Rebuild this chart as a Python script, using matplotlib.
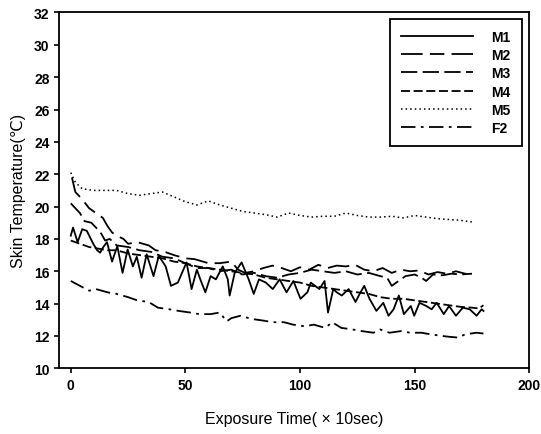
import matplotlib
matplotlib.use('Agg')
import matplotlib.pyplot as plt

plt.rcParams['font.family'] = ['Liberation Sans', 'DejaVu Sans']

# M1 (solid, strongly oscillating)
m1_x = [0, 1, 3, 5, 7, 9.8, 11.5, 12.8, 14.2, 15.8, 18, 20.3, 22.6, 24.8, 27.1, 28.8,
        30.9, 33.1, 36.1, 38.4, 41.4, 43.7, 46.7, 50.5, 52.7, 55, 56.5, 58.7, 61, 63.3,
        66.3, 68.5, 69.3, 71.5, 74.5, 77.6, 79.8, 82.1, 85.1, 88.1, 91.1, 94.1, 97.1, 100.2,
        103.2, 104.7, 108.4, 110.7, 112.2, 114.5, 116, 118.2, 121.2, 124.2, 126, 128, 130.3,
        133.3, 136.3, 138.6, 140.8, 143.1, 145.3, 148.3, 149.8, 152.1, 155.1, 157.4, 159.6,
        162.7, 165, 168, 171, 174, 177, 179.2, 180]
m1_y = [18.2, 18.7, 17.8, 18.6, 18.5, 17.7, 17.3, 17.15, 17.5, 17.8, 16.6, 17.55, 15.9,
        17.35, 16.3, 16.9, 15.6, 17.05, 15.7, 16.95, 16.3, 15.1, 15.3, 16.55, 14.9, 16.1,
        15.5, 14.7, 15.7, 15.5, 16.3, 15.5, 14.5, 15.9, 16.55, 15.5, 14.6, 15.5, 15.3,
        14.9, 15.5, 14.7, 15.4, 14.3, 14.7, 15.3, 14.9, 15.4, 13.45, 14.9, 14.7, 14.5,
        14.9, 14.1, 14.6, 15.1, 14.3, 13.55, 14.05, 13.25, 13.65, 14.5, 13.35, 13.85,
        13.25, 14.05, 13.85, 13.65, 14.05, 13.35, 13.85, 13.25, 13.75, 13.65, 13.25,
        13.65, 13.55]

# M2 (long dash)
m2_x = [0.5, 2, 5, 8, 11, 14, 16, 18, 20, 23, 25, 29, 34, 37, 41, 45, 50, 54, 60, 65, 70,
        73, 76, 80, 84, 88, 92, 96, 100, 104, 108, 112, 116, 120, 124, 128, 132, 136, 140,
        144, 148, 152, 156, 160, 164, 168, 172, 175]
m2_y = [21.8, 20.9, 20.45, 19.9, 19.6, 19.3, 18.8, 18.4, 18.2, 18.0, 17.7, 17.8, 17.6, 17.3,
        17.2, 17.0, 16.8, 16.75, 16.5, 16.5, 16.6, 16.1, 15.9, 16.0, 16.2, 16.35, 16.2,
        16.0, 16.25, 16.1, 16.4, 16.2, 16.35, 16.3, 16.4, 16.1, 16.0, 16.2, 15.9, 16.1,
        16.0, 16.05, 15.8, 15.95, 15.85, 16.0, 15.85, 15.9]

# M3 (medium dash)
m3_x = [0, 4, 6, 9, 11, 13, 15, 17, 20, 25, 30, 35, 40, 45, 50, 55, 60, 65, 70, 75, 80,
        85, 90, 95, 100, 105, 110, 115, 120, 125, 130, 135, 138, 140, 143, 146, 150, 153,
        155, 158, 162, 166, 170, 175]
m3_y = [20.2, 19.6, 19.1, 19.0, 18.7, 18.4, 17.9, 18.0, 17.6, 17.5, 17.3, 17.2, 16.9,
        16.8, 16.5, 16.2, 16.2, 16.0, 16.1, 15.8, 15.9, 15.7, 15.6, 15.8, 15.9, 16.1,
        16.0, 15.9, 16.0, 15.8, 15.9, 15.7, 15.6, 15.1, 15.4, 15.7, 15.8, 15.6, 15.4,
        15.8, 15.75, 15.85, 15.8, 15.85]

# M4 (short dash)
m4_x = [0, 4, 8, 12, 16, 20, 25, 30, 35, 40, 45, 50, 55, 60, 65, 70, 75, 80, 85, 90, 95,
        100, 105, 110, 115, 120, 125, 130, 135, 140, 145, 150, 155, 160, 165, 170, 175,
        178, 180]
m4_y = [17.9, 17.7, 17.5, 17.4, 17.3, 17.3, 17.1, 17.0, 16.9, 16.8, 16.6, 16.5, 16.3,
        16.2, 16.1, 16.0, 15.9, 15.8, 15.6, 15.5, 15.4, 15.3, 15.1, 15.0, 14.9, 14.8,
        14.7, 14.6, 14.4, 14.3, 14.3, 14.2, 14.1, 14.0, 13.9, 13.8, 13.75, 13.7, 13.9]

# M5 (dotted)
m5_x = [0, 2, 5, 10, 15, 20, 25, 30, 35, 40, 45, 50, 55, 60, 65, 70, 75, 80, 85, 90, 95,
        100, 105, 110, 115, 120, 125, 130, 135, 140, 145, 150, 155, 160, 165, 170, 175]
m5_y = [22.1, 21.5, 21.1, 21.0, 21.0, 21.0, 20.8, 20.7, 20.8, 20.9, 20.6, 20.3, 20.1,
        20.35, 20.1, 19.9, 19.7, 19.6, 19.5, 19.35, 19.6, 19.45, 19.35, 19.4, 19.4, 19.6,
        19.45, 19.35, 19.35, 19.4, 19.3, 19.45, 19.35, 19.25, 19.2, 19.15, 19.05]

# F2 (dash-dot)
f2_x = [0, 4, 8, 11, 16, 20, 25, 29, 34, 38, 43, 47, 52, 56, 61, 65, 68, 70, 74, 79, 84,
        88, 93, 97, 102, 106, 111, 114, 118, 123, 127, 132, 135, 139, 144, 148, 153, 157,
        162, 165, 169, 172, 177, 180]
f2_y = [15.4, 15.1, 14.8, 14.9, 14.7, 14.6, 14.4, 14.2, 14.1, 13.75, 13.65, 13.55, 13.45,
        13.35, 13.35, 13.45, 12.9, 13.1, 13.25, 13.05, 12.95, 12.85, 12.85, 12.7, 12.6,
        12.7, 12.5, 12.85, 12.5, 12.4, 12.3, 12.2, 12.4, 12.2, 12.3, 12.2, 12.2, 12.1,
        12.0, 11.95, 11.9, 12.1, 12.2, 12.15]

fig = plt.figure(figsize=(5.41, 4.35), dpi=100)
ax = fig.add_axes([0.1096, 0.151, 0.8688, 0.818])

lw = 1.3
ax.plot(m1_x, m1_y, color='black', lw=lw, linestyle='-', label='M1')
ax.plot(m2_x, m2_y, color='black', lw=lw, linestyle=(0, (12, 4, 8, 4)), label='M2')
ax.plot(m3_x, m3_y, color='black', lw=lw, linestyle=(0, (9, 3)), label='M3')
ax.plot(m4_x, m4_y, color='black', lw=lw, linestyle=(0, (5, 2)), label='M4')
ax.plot(m5_x, m5_y, color='black', lw=1.1, linestyle=(0, (1, 2)), label='M5')
ax.plot(f2_x, f2_y, color='black', lw=lw, linestyle=(0, (8, 3, 1.5, 3)), label='F2')

ax.set_xlim(-5, 200)
ax.set_ylim(10, 32)
ax.set_xticks([0, 50, 100, 150, 200])
ax.set_yticks(range(10, 33, 2))
ax.tick_params(direction='out', length=3.5, width=1.2, labelsize=10, top=False, right=False)
for lab in ax.get_xticklabels() + ax.get_yticklabels():
    lab.set_fontweight('bold')
for s in ax.spines.values():
    s.set_linewidth(1.3)

ax.set_xlabel('Exposure Time( × 10sec)', fontsize=11.5, labelpad=14)
ax.set_ylabel('Skin Temperature(℃)', fontsize=11.5, labelpad=6)

leg = ax.legend(loc='upper right', bbox_to_anchor=(0.984, 0.982), borderaxespad=0,
                fontsize=10, handlelength=5.2, handletextpad=1.3, labelspacing=0.3,
                fancybox=False, framealpha=1, edgecolor='black',
                borderpad=0.8, prop={'weight': 'bold', 'size': 10})
leg.get_frame().set_linewidth(1.3)

plt.savefig('out.png', dpi=100)
